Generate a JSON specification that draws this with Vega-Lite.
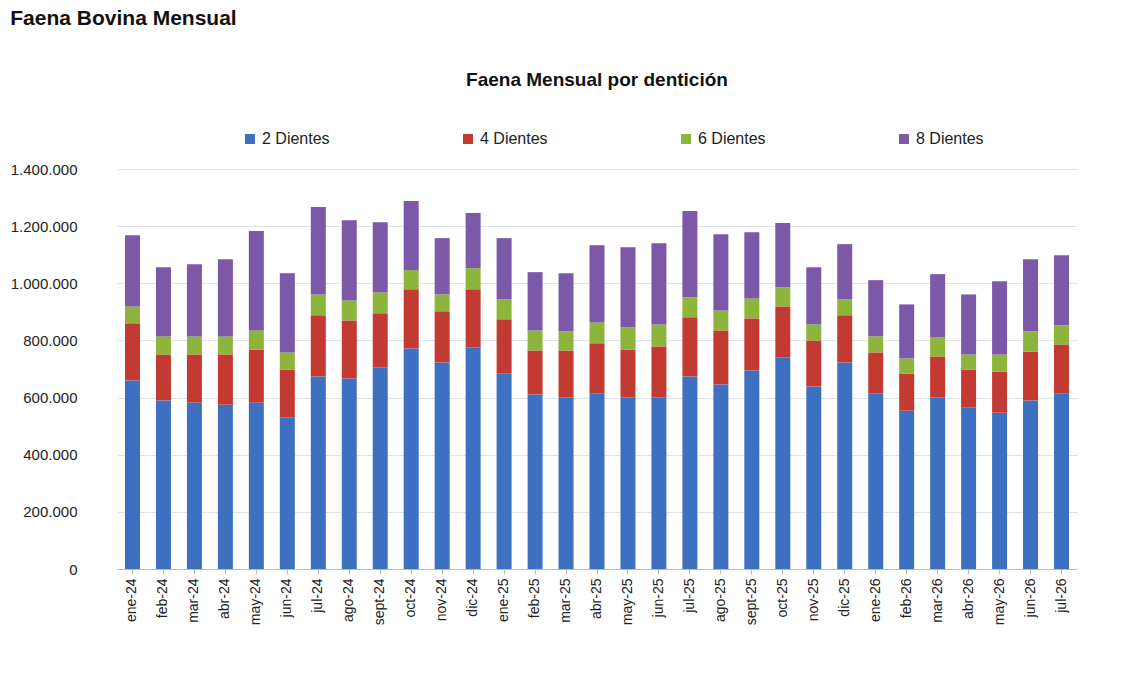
{
  "$schema": "https://vega.github.io/schema/vega-lite/v6.json",
  "padding": {"left": 10, "top": 8, "right": 10, "bottom": 5},
  "background": "white",
  "config": {
    "font": "Liberation Sans",
    "locale": {"number": {"decimal": ",", "thousands": ".", "grouping": [3], "currency": ["$", ""]}},
    "view": {"stroke": null}
  },
  "title": {"text": "Faena Bovina Mensual", "anchor": "start", "fontSize": 21, "fontWeight": "bold", "color": "#111", "offset": 42},
  "vconcat": [
    {
      "width": 960,
      "height": 400,
      "padding": 0,
      "title": {"text": "Faena Mensual por dentición", "fontSize": 19, "fontWeight": "bold", "color": "#111", "anchor": "middle", "offset": 72},
      "data": {"values": [
        {"i":1,"m":"ene-24","a":660000,"b":200000,"c":59000,"d":249000},
        {"i":2,"m":"feb-24","a":590000,"b":161000,"c":63000,"d":242000},
        {"i":3,"m":"mar-24","a":582000,"b":169000,"c":63000,"d":253000},
        {"i":4,"m":"abr-24","a":575000,"b":176000,"c":63000,"d":270000},
        {"i":5,"m":"may-24","a":582000,"b":186000,"c":67000,"d":348000},
        {"i":6,"m":"jun-24","a":530000,"b":168000,"c":60000,"d":277000},
        {"i":7,"m":"jul-24","a":674000,"b":214000,"c":73000,"d":306000},
        {"i":8,"m":"ago-24","a":667000,"b":203000,"c":70000,"d":281000},
        {"i":9,"m":"sept-24","a":705000,"b":190000,"c":73000,"d":246000},
        {"i":10,"m":"oct-24","a":772000,"b":207000,"c":67000,"d":242000},
        {"i":11,"m":"nov-24","a":723000,"b":179000,"c":59000,"d":197000},
        {"i":12,"m":"dic-24","a":775000,"b":204000,"c":74000,"d":193000},
        {"i":13,"m":"ene-25","a":684000,"b":190000,"c":70000,"d":214000},
        {"i":14,"m":"feb-25","a":611000,"b":154000,"c":70000,"d":204000},
        {"i":15,"m":"mar-25","a":600000,"b":165000,"c":67000,"d":203000},
        {"i":16,"m":"abr-25","a":614000,"b":176000,"c":73000,"d":270000},
        {"i":17,"m":"may-25","a":600000,"b":168000,"c":78000,"d":280000},
        {"i":18,"m":"jun-25","a":600000,"b":179000,"c":77000,"d":284000},
        {"i":19,"m":"jul-25","a":674000,"b":207000,"c":70000,"d":302000},
        {"i":20,"m":"ago-25","a":646000,"b":189000,"c":70000,"d":267000},
        {"i":21,"m":"sept-25","a":695000,"b":182000,"c":70000,"d":232000},
        {"i":22,"m":"oct-25","a":740000,"b":179000,"c":67000,"d":225000},
        {"i":23,"m":"nov-25","a":639000,"b":161000,"c":56000,"d":200000},
        {"i":24,"m":"dic-25","a":723000,"b":165000,"c":56000,"d":193000},
        {"i":25,"m":"ene-26","a":614000,"b":144000,"c":56000,"d":197000},
        {"i":26,"m":"feb-26","a":554000,"b":130000,"c":53000,"d":189000},
        {"i":27,"m":"mar-26","a":600000,"b":144000,"c":67000,"d":221000},
        {"i":28,"m":"abr-26","a":565000,"b":133000,"c":53000,"d":210000},
        {"i":29,"m":"may-26","a":547000,"b":144000,"c":60000,"d":256000},
        {"i":30,"m":"jun-26","a":590000,"b":171000,"c":71000,"d":252000},
        {"i":31,"m":"jul-26","a":614000,"b":172000,"c":67000,"d":245000}
      ]},
      "transform": [
        {"fold": ["a", "b", "c", "d"], "as": ["k", "v"]},
        {"lookup": "k", "from": {"data": {"values": [
          {"k":"a","serie":"2 Dientes"},{"k":"b","serie":"4 Dientes"},
          {"k":"c","serie":"6 Dientes"},{"k":"d","serie":"8 Dientes"}]}, "key": "k", "fields": ["serie"]}}
      ],
      "mark": {"type": "bar", "width": 15},
      "encoding": {
        "x": {"field": "m", "type": "nominal", "sort": {"field": "i"}, "title": null,
          "axis": {"labelAngle": -90, "labelFontSize": 14, "labelColor": "#222", "ticks": true, "domainColor": "#bbb", "tickColor": "#bbb", "labelPadding": 4}},
        "y": {"field": "v", "type": "quantitative", "aggregate": "sum", "title": null,
          "scale": {"domain": [0, 1400000]},
          "axis": {"values": [0, 200000, 400000, 600000, 800000, 1000000, 1200000, 1400000], "format": ",.0f", "labelFontSize": 15, "labelColor": "#222", "domain": false, "ticks": false, "gridColor": "#dde3ea", "labelPadding": 40}},
        "color": {"field": "serie", "type": "nominal", "title": null,
          "scale": {"domain": ["2 Dientes", "4 Dientes", "6 Dientes", "8 Dientes"], "range": ["#3e70c1", "#c33a33", "#8db53c", "#7b59a8"]},
          "legend": {"orient": "none", "legendX": 125, "legendY": -38, "direction": "horizontal", "symbolType": "square", "labelFontSize": 16, "labelColor": "#222", "columnPadding": 130, "symbolSize": 100}},
        "order": {"field": "k"}
      }
    }
  ]
}
